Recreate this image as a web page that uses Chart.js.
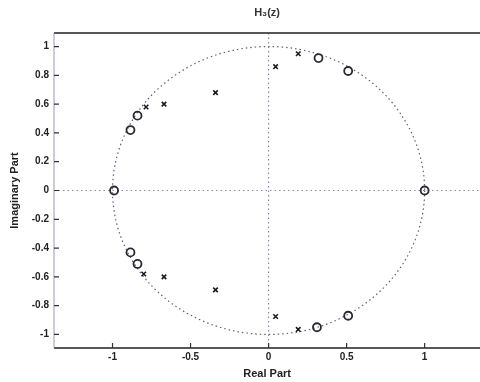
<!DOCTYPE html>
<html>
<head>
<meta charset="utf-8">
<script src="https://cdn.jsdelivr.net/npm/chart.js@4/dist/chart.umd.min.js"></script>
<style>
  html, body { margin: 0; padding: 0; background: #fff; overflow: hidden; }
  #wrap { width: 486px; height: 382px; }
</style>
</head>
<body>
<div id="wrap"><canvas id="zp"></canvas></div>
<script>
// pole-zero plot, values
const ZERO_RE = [-0.99, 1.0, -0.885, -0.84, 0.32, 0.51, -0.885, -0.84, 0.31, 0.51]
const ZERO_IM = [0, 0, 0.42, 0.52, 0.92, 0.83, -0.43, -0.51, -0.95, -0.87]
const POLE_RE = [0.19, 0.045, -0.34, -0.67, -0.785, 0.19, 0.045, -0.34, -0.67, -0.80]
const POLE_IM = [0.95, 0.86, 0.68, 0.60, 0.58, -0.965, -0.875, -0.69, -0.60, -0.58]

const X_TICKS = [-1, -0.5, 0, 0.5, 1]
const Y_TICKS = [1, 0.8, 0.6, 0.4, 0.2, 0, -0.2, -0.4, -0.6, -0.8, -1]
const UNIT_RADIUS = 1

const toPoints = (re, im) => re.map((r, i) => ({ x: r, y: im[i] }))

// unit circle, zero axes, frame and inward ticks
const zplaneDecor = {
  id: "zplaneDecor",
  beforeDatasetsDraw(chart) {
    const { ctx, chartArea: a, scales: { x, y } } = chart
    const cx = x.getPixelForValue(0)
    const cy = y.getPixelForValue(0)
    ctx.save()
    ctx.lineWidth = 1.2
    ctx.strokeStyle = "#8c88ad"
    ctx.setLineDash([1.5, 3])
    ctx.beginPath()
    ctx.moveTo(cx, a.top)
    ctx.lineTo(cx, a.bottom)
    ctx.moveTo(a.left, cy)
    ctx.lineTo(a.right, cy)
    ctx.stroke()

    const rx = x.getPixelForValue(UNIT_RADIUS) - cx
    const ry = cy - y.getPixelForValue(UNIT_RADIUS)
    ctx.strokeStyle = "#625e82"
    ctx.setLineDash([1.5, 3])
    ctx.beginPath()
    ctx.ellipse(cx, cy, rx, ry, 0, 0, Math.PI * 2)
    ctx.stroke()
    ctx.restore()
  },
  afterDraw(chart) {
    const { ctx, chartArea: a, scales: { x, y } } = chart
    ctx.save()
    ctx.setLineDash([])
    ctx.strokeStyle = "#222"
    ctx.lineWidth = 1.5
    ctx.beginPath()
    ctx.moveTo(a.left, a.top)
    ctx.lineTo(a.right, a.top)
    ctx.moveTo(a.left, a.bottom)
    ctx.lineTo(a.right, a.bottom)
    ctx.stroke()
    ctx.strokeStyle = "#9a9ab4"
    ctx.lineWidth = 1
    ctx.beginPath()
    ctx.moveTo(a.left, a.top)
    ctx.lineTo(a.left, a.bottom)
    ctx.stroke()
    ctx.strokeStyle = "#333"
    ctx.lineWidth = 1.2
    ctx.beginPath()
    Y_TICKS.forEach((v) => {
      const py = y.getPixelForValue(v)
      ctx.moveTo(a.left, py)
      ctx.lineTo(a.left + 5, py)
    })
    X_TICKS.forEach((v) => {
      const px = x.getPixelForValue(v)
      ctx.moveTo(px, a.bottom)
      ctx.lineTo(px, a.bottom - 5)
    })
    ctx.stroke()
    ctx.restore()
  }
}

new Chart(document.getElementById("zp"), {
  type: "scatter",
  data: {
    datasets: [
      {
        label: "Zeros",
        data: toPoints(ZERO_RE, ZERO_IM),
        pointStyle: "circle",
        pointRadius: 4,
        borderColor: "#2a2a33",
        backgroundColor: "rgba(0,0,0,0)",
        borderWidth: 1.8
      },
      {
        label: "Poles",
        data: toPoints(POLE_RE, POLE_IM),
        pointStyle: "crossRot",
        pointRadius: 3.2,
        borderColor: "#1a1a22",
        borderWidth: 1.6
      }
    ]
  },
  options: {
    responsive: true,
    maintainAspectRatio: false,
    animation: false,
    layout: { padding: 0 },
    plugins: {
      legend: { display: false },
      tooltip: { enabled: false },
      title: {
        display: true,
        fullSize: false,
        text: "H\u2083(z)",
        color: "#333",
        font: { family: "Liberation Sans", size: 11 },
        padding: { top: 6.4, bottom: 13.4 }
      }
    },
    scales: {
      x: {
        type: "linear",
        min: -1.375,
        max: 1.356,
        afterBuildTicks: (s) => { s.ticks = X_TICKS.map((v) => ({ value: v })) },
        afterFit: (s) => { s.height = 34 },
        border: { display: false },
        grid: { display: false, drawTicks: false },
        ticks: {
          color: "#222",
          font: { family: "Liberation Sans", size: 10, weight: "bold" },
          padding: 3,
          maxRotation: 0,
          callback: (v) => String(v)
        },
        title: {
          display: true,
          text: "Real Part",
          color: "#222",
          font: { family: "Liberation Sans", size: 11, weight: "bold" },
          padding: { top: 0, bottom: 1.4 }
        }
      },
      y: {
        type: "linear",
        min: -1.094,
        max: 1.094,
        afterBuildTicks: (s) => { s.ticks = Y_TICKS.map((v) => ({ value: v })) },
        afterFit: (s) => { s.width = 54 },
        border: { display: false },
        grid: { display: false, drawTicks: false },
        ticks: {
          color: "#222",
          font: { family: "Liberation Sans", size: 10, weight: "bold" },
          padding: 5,
          callback: (v) => String(v)
        },
        title: {
          display: true,
          text: "Imaginary Part",
          color: "#222",
          font: { family: "Liberation Sans", size: 11, weight: "bold" },
          padding: { top: 8.4, bottom: 0 }
        }
      }
    }
  },
  plugins: [zplaneDecor]
})
</script>
</body>
</html>
